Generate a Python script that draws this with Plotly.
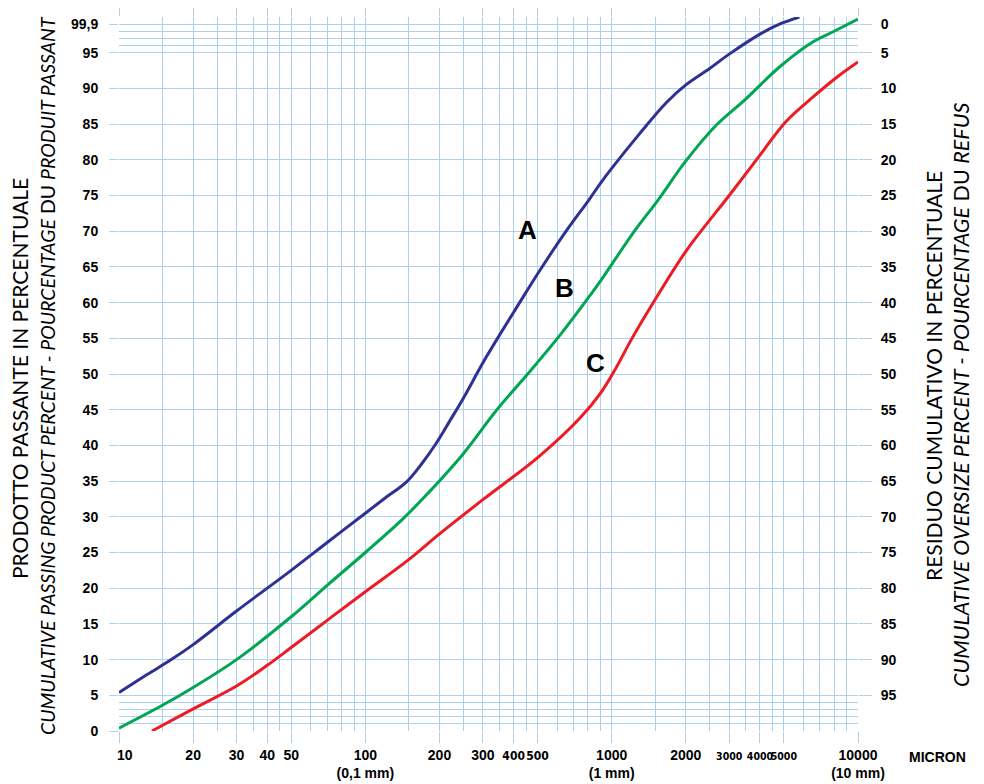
import numpy as np
import plotly.graph_objects as go

# ---- data ----
A_x = [10, 13, 16.3, 20, 30, 50, 70, 100, 120, 147, 170, 194, 220, 248, 310, 423, 513, 650, 809, 900,
       1000, 1294, 1665, 2000, 2500, 3000, 4000, 4800, 5780]
A_y = [5.4, 7.9, 10.0, 12.1, 16.8, 22.5, 26.4, 30.5, 32.6, 34.9, 37.5, 40.3, 43.4, 46.4, 52.4, 60.0, 64.6, 69.9, 74.4, 76.7,
       78.8, 83.6, 88.0, 90.5, 92.8, 94.8, 97.6, 99.0, 100]

B_x = [10, 15, 20, 30, 50, 70, 100, 140, 174, 248, 342, 472, 632, 817, 900, 1219, 1545, 1987, 2668, 3473,
       4800, 6548, 8000, 10000]
B_y = [0.4, 3.6, 6.1, 10.0, 16.0, 20.4, 25.0, 29.5, 32.8, 38.7, 45.0, 50.6, 55.9, 61.0, 63.0, 69.7, 74.4, 79.7, 84.9, 88.4,
       93.0, 96.5, 98.0, 99.7]

C_x = [13.6, 20, 30, 40, 50, 70, 100, 150, 200, 300, 505, 742, 900, 1020, 1219, 1500, 2021, 3000, 3950, 5083,
       6570, 8230, 10000]
C_y = [0, 3.1, 6.3, 9.2, 11.7, 15.5, 19.5, 24.0, 27.6, 32.4, 38.4, 43.8, 47.3, 50.3, 55.2, 60.4, 67.4, 75.0, 80.4, 85.3,
       88.8, 91.6, 93.7]

curve_names = ["A", "B", "C"]
label_pos_x = [454, 642, 857]
label_pos_y = [70.2, 62.0, 51.5]

x_tick_vals = [10, 20, 30, 40, 50, 100, 200, 300, 400, 500, 1000, 2000, 3000, 4000, 5000, 10000]
NARROW = "<span style=\"font-family:'Liberation Sans Narrow','DejaVu Sans Condensed',Arial;font-size:%spx\">%s</span>"
x_tick_text = ["\u00a0\u00a0\u00a010", "20", "30", "40", "50", "100<br>(0,1 mm)", "200", "300",
               NARROW % (12, "400"), NARROW % (12, "500"), "1000<br>(1 mm)", "2000",
               NARROW % (10.5, "3000"), NARROW % (10.5, "4000"), NARROW % (10.5, "5000"), "10000<br>(10 mm)"]
x_minor_vals = [v * d for d in (10, 100, 1000) for v in (1.5, 2.5, 3.5, 4.5, 6, 7, 8, 9)]

y_left_vals = list(range(0, 100, 5)) + [99]
y_left_text = [str(v) for v in range(0, 100, 5)] + ["99,9"]
y_minor_vals = [1, 2, 3, 4, 96, 97, 98, 100]
y_right_vals = [99] + list(range(95, 0, -5))
y_right_text = [str(v) for v in range(0, 100, 5)]

GRID = "#aed0ef"
COLORS = ["#2e3192", "#00a651", "#ed1c24"]

fig = go.Figure()
for xs, ys, col in zip([A_x, B_x, C_x], [A_y, B_y, C_y], COLORS):
    fig.add_trace(go.Scatter(x=xs, y=ys, mode="lines",
                             line=dict(color=col, width=3, shape="spline", smoothing=1.0),
                             showlegend=False, hoverinfo="skip"))
# helper trace so the right axis is drawn
fig.add_trace(go.Scatter(x=[10], y=[0], yaxis="y2", mode="markers",
                         marker=dict(opacity=0), showlegend=False, hoverinfo="skip"))

tickfont = dict(family="Arial, Liberation Sans", size=14, color="black", weight="bold")

# page body has an 8px margin: figure is 976x776 placed at (8, 8)
fig.update_layout(
    width=976, height=776,
    margin=dict(l=111, r=126, t=9, b=53, autoexpand=False),
    paper_bgcolor="white", plot_bgcolor="white",
    xaxis=dict(type="log", range=[1, 4], tickmode="array", tickvals=x_tick_vals, ticktext=x_tick_text,
               showgrid=True, gridcolor=GRID, gridwidth=1.3, ticks="outside", ticklen=11,
               tickcolor=GRID, tickwidth=1.3, mirror="ticks", showline=False, zeroline=False,
               tickfont=tickfont, tickangle=0,
               minor=dict(tickmode="array", tickvals=x_minor_vals, showgrid=True,
                          gridcolor=GRID, gridwidth=1.3, ticks="")),
    yaxis=dict(range=[0, 100], tickmode="array", tickvals=y_left_vals, ticktext=y_left_text,
               showgrid=True, gridcolor=GRID, gridwidth=1.3, ticks="outside", ticklen=9,
               tickcolor=GRID, tickwidth=1.3, showline=False, zeroline=False,
               tickfont=tickfont, ticklabelstandoff=8,
               minor=dict(tickmode="array", tickvals=y_minor_vals, showgrid=True,
                          gridcolor=GRID, gridwidth=1.3, ticks="")),
    yaxis2=dict(range=[0, 100], overlaying="y", side="right", tickmode="array",
                tickvals=y_right_vals, ticktext=y_right_text, showgrid=False,
                ticks="outside", ticklen=13, tickcolor=GRID, tickwidth=1.3,
                showline=False, zeroline=False, tickfont=tickfont, ticklabelstandoff=6),
)

# curve labels
for name, lx, ly in zip(curve_names, label_pos_x, label_pos_y):
    fig.add_annotation(x=np.log10(lx), y=ly, xref="x", yref="y", text="<b>%s</b>" % name,
                       showarrow=False, font=dict(family="Arial, Liberation Sans", size=26, color="black"))

# axis titles (plot area: x 111..850, y 9..723 inside the figure)
PW, PH = 739.0, 714.0
def px(xf):
    return (xf - 8 - 111) / PW
def py(yf):
    return (731 - yf) / PH

def title(text, xf, yf, size):
    fig.add_annotation(xref="paper", yref="paper", x=px(xf), y=py(yf), xanchor="center", yanchor="middle",
                       textangle=-90, showarrow=False, text=text,
                       font=dict(family="Lato, Open Sans", size=size, color="black"))

title("PRODOTTO PASSANTE IN PERCENTUALE", 19, 379, 21)
title("<i>CUMULATIVE PASSING PRODUCT PERCENT - POURCENTAGE</i> DU <i>PRODUIT PASSANT</i>", 47, 376, 19.5)
title("RESIDUO CUMULATIVO IN PERCENTUALE", 933, 376, 21)
title("<i>CUMULATIVE OVERSIZE PERCENT - POURCENTAGE</i> DU <i>REFUS</i>", 961, 395, 21.5)

fig.add_annotation(xref="paper", yref="paper", x=px(937), y=py(757), xanchor="center", yanchor="middle",
                   showarrow=False, text="<b>MICRON</b>",
                   font=dict(family="Arial, Liberation Sans", size=14, color="black"))

fig.write_html("out.html")
